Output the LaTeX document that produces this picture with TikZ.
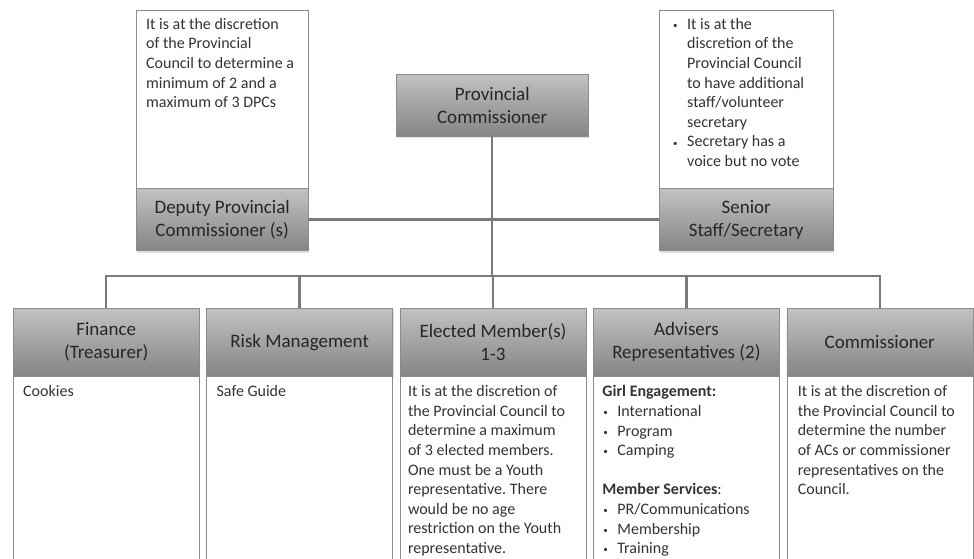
\documentclass[tikz,border=0pt]{standalone}
\usepackage{fontspec}
\setmainfont{Carlito}
\usepackage{tikz}
\usetikzlibrary{positioning,shadows}
\newcommand{\bitem}{\makebox[15pt][l]{\hspace{1pt}\raisebox{0.1ex}{\small\textbullet}}}
\newcommand{\bcont}{\hspace*{15pt}}
\frenchspacing

\begin{document}
\begin{tikzpicture}
[x=1pt, y=-1pt,
headbox/.style={rectangle, draw=black!45, top color=black!24, bottom color=black!48, text=black!85, align=center, font=\fontsize{19}{23}\selectfont, minimum width=186pt, minimum height=68pt, inner sep=0pt, drop shadow={opacity=0.25, shadow xshift=1pt, shadow yshift=-2pt}},
notebox/.style={rectangle, draw=black!45, fill=white, minimum width=172pt, minimum height=178pt, inner sep=0pt},
bodybox/.style={rectangle, draw=black!45, fill=white, minimum width=186pt, minimum height=200pt, inner sep=0pt},
textblock/.style={align=left, text=black!80, font=\fontsize{16}{19.6}\selectfont, inner sep=2pt, anchor=north west},
link/.style={draw=black!52, line width=2.5pt},
]
\useasboundingbox (0,0) rectangle (974,558);
\clip (0,0) rectangle (974,558);

% top row
\node[headbox, minimum width=192pt, minimum height=62pt, anchor=north west] (pc) at (396,74) {Provincial\\Commissioner};
\node[notebox, anchor=north west] (dpcnote) at (136,10) {};
\node[headbox, minimum width=172pt, minimum height=62pt, below=0pt of dpcnote] (dpc) {Deputy Provincial\\Commissioner (s)};
\node[notebox, minimum width=174pt, anchor=north west] (sennote) at (659,10) {};
\node[headbox, minimum width=174pt, minimum height=62pt, below=0pt of sennote] (sen) {Senior\\Staff/Secretary};

\node[textblock] (dpctxt) at ([xshift=8pt, yshift=-6pt]dpcnote.north west) {It is at the discretion\\of the Provincial\\Council to determine a\\minimum of 2 and a\\maximum of 3 DPCs};
\node[textblock] (sentxt) at ([xshift=11pt, yshift=-6pt]sennote.north west) {\bitem It is at the\\\bcont discretion of the\\\bcont Provincial Council\\\bcont to have additional\\\bcont staff/volunteer\\\bcont secretary\\\bitem Secretary has a\\\bcont voice but no vote};

% bottom row
\node[headbox, anchor=north west] (fin) at (13,308) {Finance\\(Treasurer)};
\node[headbox] (risk) [right=7pt of fin] {Risk Management};
\node[headbox] (ele) [right=7pt of risk] {Elected Member(s)\\1-3};
\node[headbox] (adv) [right=7pt of ele] {Advisers\\Representatives (2)};
\node[headbox] (com) [right=7pt of adv] {Commissioner};

\node[bodybox] (finbody) [below=0pt of fin] {};
\node[bodybox] (riskbody) [below=0pt of risk] {};
\node[bodybox] (elebody) [below=0pt of ele] {};
\node[bodybox] (advbody) [below=0pt of adv] {};
\node[bodybox] (combody) [below=0pt of com] {};

\node[textblock] (fintxt) at ([xshift=8pt, yshift=-7pt]finbody.north west) {Cookies};
\node[textblock] (risktxt) at ([xshift=8pt, yshift=-7pt]riskbody.north west) {Safe Guide};
\node[textblock] (eletxt) at ([xshift=6pt, yshift=-7pt]elebody.north west) {It is at the discretion of\\the Provincial Council to\\determine a maximum\\of 3 elected members.\\One must be a Youth\\representative. There\\would be no age\\restriction on the Youth\\representative.};
\node[textblock] (advtxt) at ([xshift=7pt, yshift=-7pt]advbody.north west) {\textbf{Girl Engagement:}\\\bitem International\\\bitem Program\\\bitem Camping\\[19.6pt]\textbf{Member Services}:\\\bitem PR/Communications\\\bitem Membership\\\bitem Training};
\node[textblock] (comtxt) at ([xshift=9pt, yshift=-7pt]combody.north west) {It is at the discretion of\\the Provincial Council to\\determine the number\\of ACs or commissioner\\representatives on the\\Council.};

% connectors
\coordinate (bus) at (pc.south |- 0,276);
\draw[link] (dpc.east) -- (sen.west);
\draw[link] (pc.south) -- (bus);
\draw[link] (bus) -| (fin.north);
\draw[link] (bus) -| (risk.north);
\draw[link] (bus) -| (ele.north);
\draw[link] (bus) -| (adv.north);
\draw[link] (bus) -| (com.north);
\end{tikzpicture}
\end{document}
